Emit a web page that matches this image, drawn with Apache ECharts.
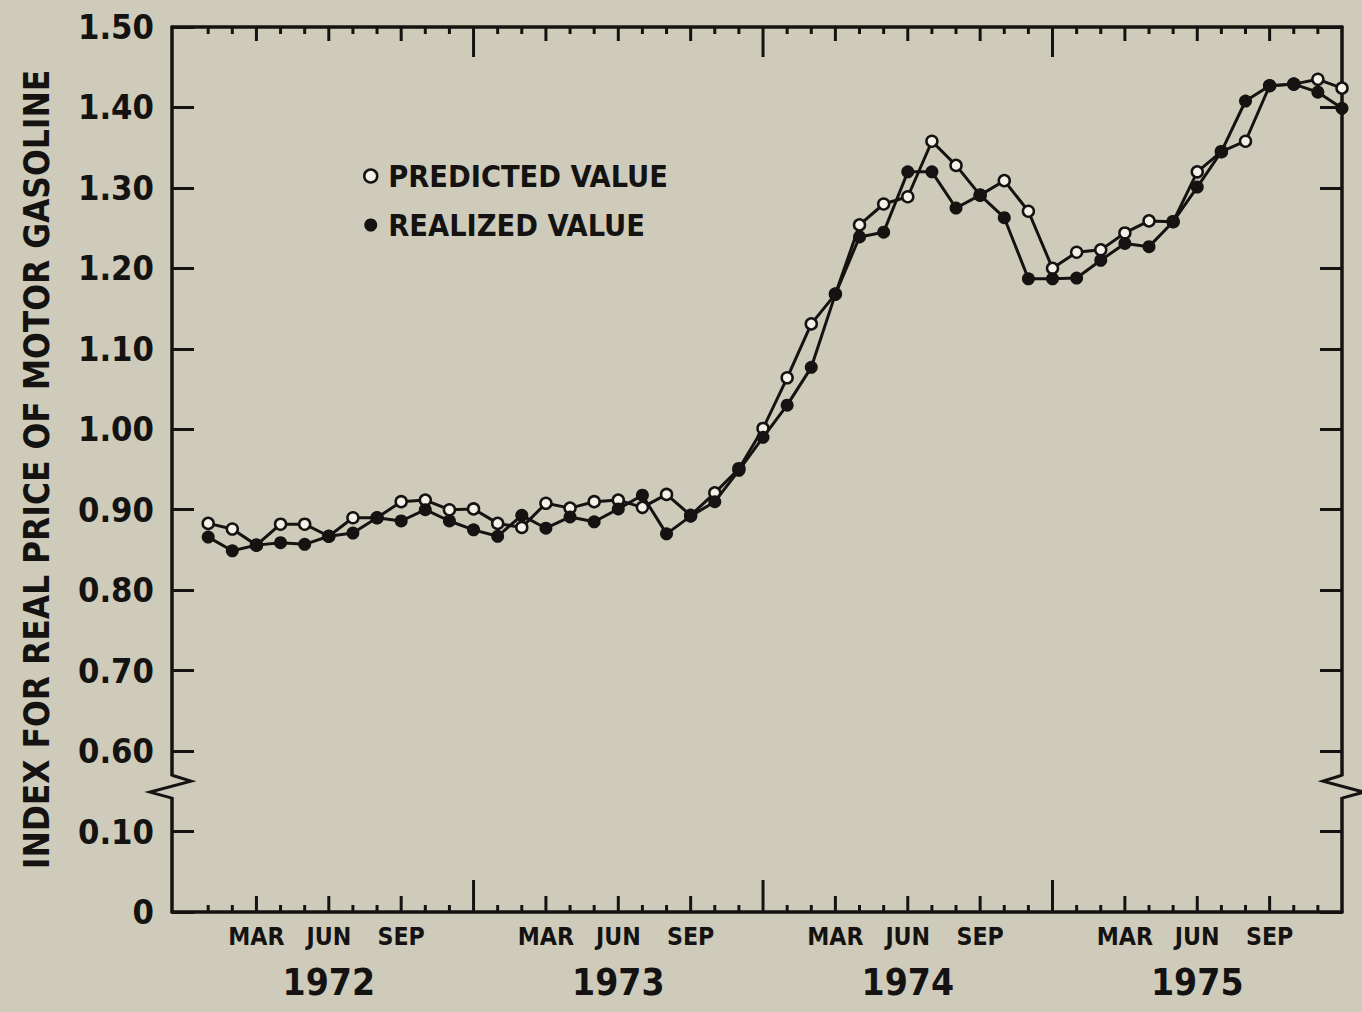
<!DOCTYPE html>
<html><head><meta charset="utf-8">
<script src="https://cdn.jsdelivr.net/npm/echarts@6/dist/echarts.min.js"></script>
<style>html,body{margin:0;padding:0;background:#cfcbbb}#c{width:1362px;height:1012px}</style>
</head><body><div id="c"></div>
<script>
// Monthly observations, Jan 1972 .. Dec 1975 (index 0..47)
const categories = [];
for (const y of [1972, 1973, 1974, 1975]) for (let m = 1; m <= 12; m++) categories.push(y + '-' + (m < 10 ? '0' : '') + m);

const predicted = [
  0.883, 0.876, 0.856, 0.882, 0.882, 0.867, 0.890, 0.890, 0.910, 0.912, 0.900, 0.901,
  0.883, 0.878, 0.908, 0.902, 0.910, 0.912, 0.903, 0.919, 0.893, 0.921, 0.951, 1.001,
  1.064, 1.131, 1.168, 1.254, 1.280, 1.289, 1.358, 1.328, 1.291, 1.309, 1.271, 1.200,
  1.220, 1.223, 1.244, 1.259, 1.258, 1.320, 1.345, 1.358, 1.427, 1.429, 1.435, 1.424
];
const realized = [
  0.866, 0.849, 0.856, 0.859, 0.857, 0.867, 0.871, 0.890, 0.886, 0.900, 0.886, 0.875,
  0.867, 0.893, 0.877, 0.891, 0.885, 0.901, 0.918, 0.870, 0.892, 0.910, 0.949, 0.990,
  1.030, 1.077, 1.168, 1.239, 1.245, 1.320, 1.320, 1.275, 1.291, 1.263, 1.187, 1.187,
  1.188, 1.210, 1.231, 1.227, 1.258, 1.301, 1.345, 1.408, 1.427, 1.429, 1.419, 1.399
];
const quarterLabels = { 2: 'MAR', 5: 'JUN', 8: 'SEP' };
const yearLabels = ['1972', '1973', '1974', '1975'];
// y tick labels: the axis is broken; 0.4 and 0.5 stand for 0 and 0.10
const yTickLabels = { '0.4': '0', '0.5': '0.10' };
const seriesNames = ['PREDICTED VALUE', 'REALIZED VALUE'];
const yTitle = 'INDEX FOR REAL PRICE OF MOTOR GASOLINE';

// ---- font choice: prefer a condensed bold face, size text between reference width and height ----
const ctx = document.createElement('canvas').getContext('2d');
function hasFont(name) {
  const s = 'INDEX FOR REAL 1.50 MAR';
  let r = false;
  for (const fb of ['monospace', 'serif']) {
    ctx.font = 'bold 50px ' + fb; const a = ctx.measureText(s).width;
    ctx.font = "bold 50px '" + name + "', " + fb; const b = ctx.measureText(s).width;
    if (a !== b) r = true;
  }
  return r;
}
const candidates = ['Noto Sans Condensed', 'Liberation Sans Narrow', 'Noto Sans ExtraCondensed', 'DejaVu Sans Condensed'];
const chosen = candidates.find(hasFont) || 'DejaVu Sans Condensed';
const FONT = "'" + chosen + "', 'DejaVu Sans Condensed', sans-serif";
function fit(text, width, capH) {
  ctx.font = 'bold 100px ' + FONT;
  const w = ctx.measureText(text).width;
  const wf = 100 * width / w, hf = capH / 0.72;
  return wf >= hf ? hf : Math.sqrt(wf * hf);
}
const fsY = fit('1.50', 67, 28);
const fsTitle = fit(yTitle, 746, 27);
const fsMonth = fit('MAR', 50, 20);
const fsYear = fit('1972', 77, 32);
const fsLegend = fit(seriesNames[0], 245, 25);

const INK = '#141312';
const BG = '#cfcbbb';
const X_MIN = -1.5, X_MAX = 47, Y_MIN = 0.4, Y_MAX = 1.5;

const tickData = categories.slice(0, 47).map((c, i) => [i, i % 12 === 11 ? 2 : (i % 3 === 2 ? 1 : 0)]);
const breakData = [[X_MIN, -1], [X_MAX, 1]];

const chart = echarts.init(document.getElementById('c'), null, { renderer: 'svg' });
chart.setOption({
  animation: false,
  backgroundColor: BG,
  grid: { left: 172, right: 20, top: 27, bottom: 100, containLabel: false },
  legend: {
    orient: 'vertical', left: 358, top: 156, itemGap: 19, itemWidth: 13, itemHeight: 13,
    textStyle: { fontFamily: FONT, fontWeight: 'bold', fontSize: fsLegend, color: INK, padding: [0, 0, 0, 6] },
    data: [
      { name: seriesNames[0], icon: 'circle', itemStyle: { color: '#f3f1e8', borderColor: INK, borderWidth: 2.5 } },
      { name: seriesNames[1], icon: 'circle', itemStyle: { color: INK, borderWidth: 0 } }
    ]
  },
  xAxis: [
    { type: 'value', min: X_MIN, max: X_MAX, interval: 0.5, position: 'bottom',
      axisLine: { show: true, onZero: false, lineStyle: { color: INK, width: 3.5 } },
      axisTick: { show: false }, splitLine: { show: false },
      axisLabel: { margin: 12, fontFamily: FONT, fontWeight: 'bold', fontSize: fsMonth, color: INK,
        formatter: v => (Number.isInteger(v) && v >= 0 && quarterLabels[v % 12]) ? quarterLabels[v % 12] : '' } },
    { type: 'value', min: X_MIN, max: X_MAX, interval: 0.5, position: 'bottom',
      axisLine: { show: false }, axisTick: { show: false }, splitLine: { show: false },
      axisLabel: { margin: 52, fontFamily: FONT, fontWeight: 'bold', fontSize: fsYear, color: INK,
        formatter: v => (Number.isInteger(v) && v >= 0 && v % 12 === 5) ? yearLabels[Math.floor(v / 12)] : '' } },
    { type: 'value', min: X_MIN, max: X_MAX, position: 'top',
      axisLine: { show: true, onZero: false, lineStyle: { color: INK, width: 3.5 } },
      axisTick: { show: false }, axisLabel: { show: false }, splitLine: { show: false } }
  ],
  yAxis: [
    { type: 'value', min: Y_MIN, max: Y_MAX, interval: 0.1, position: 'left',
      name: yTitle, nameLocation: 'middle', nameGap: 118, nameRotate: 90,
      nameTextStyle: { fontFamily: FONT, fontWeight: 'bold', fontSize: fsTitle, color: INK },
      axisLine: { show: true, onZero: false, lineStyle: { color: INK, width: 3.5 } },
      axisTick: { show: true, inside: true, length: 22, lineStyle: { color: INK, width: 3 } },
      splitLine: { show: false },
      axisLabel: { margin: 18, fontFamily: FONT, fontWeight: 'bold', fontSize: fsY, color: INK,
        formatter: v => { const k = (Math.round(v * 10) / 10).toString(); return yTickLabels[k] !== undefined ? yTickLabels[k] : v.toFixed(2); } } },
    { type: 'value', min: Y_MIN, max: Y_MAX, interval: 0.1, position: 'right',
      axisLine: { show: true, onZero: false, lineStyle: { color: INK, width: 3.5 } },
      axisTick: { show: true, inside: true, length: 22, lineStyle: { color: INK, width: 3 } },
      axisLabel: { show: false }, splitLine: { show: false } }
  ],
  series: [
    { name: seriesNames[0], type: 'line', xAxisIndex: 0, yAxisIndex: 0, z: 3,
      data: predicted.map((v, i) => [i, v]),
      symbol: 'circle', symbolSize: 11, showAllSymbol: true,
      lineStyle: { color: INK, width: 3 },
      itemStyle: { color: '#f3f1e8', borderColor: INK, borderWidth: 2.5 } },
    { name: seriesNames[1], type: 'line', xAxisIndex: 0, yAxisIndex: 0, z: 4,
      data: realized.map((v, i) => [i, v]),
      symbol: 'circle', symbolSize: 13, showAllSymbol: true,
      lineStyle: { color: INK, width: 3 },
      itemStyle: { color: INK, borderWidth: 0 } },
    { type: 'custom', name: 'ticks', xAxisIndex: 0, yAxisIndex: 0, z: 5, silent: true, clip: false,
      data: tickData,
      renderItem: (params, api) => {
        const x = api.value(0), lvl = api.value(1);
        const pb = api.coord([x, Y_MIN]), pt = api.coord([x, Y_MAX]);
        const lb = [7, 16, 32][lvl], lt = [7, 14, 30][lvl];
        const st = { stroke: INK, lineWidth: 3 };
        return { type: 'group', children: [
          { type: 'line', shape: { x1: pb[0], y1: pb[1], x2: pb[0], y2: pb[1] - lb }, style: st },
          { type: 'line', shape: { x1: pt[0], y1: pt[1], x2: pt[0], y2: pt[1] + lt }, style: st }
        ] };
      } },
    { type: 'custom', name: 'break', xAxisIndex: 0, yAxisIndex: 0, z: 6, silent: true, clip: false,
      data: breakData,
      renderItem: (params, api) => {
        const xv = api.value(0), side = api.value(1);
        const a = api.coord([xv, 0.570]), b = api.coord([xv, 0.5627]), c = api.coord([xv, 0.549]), d = api.coord([xv, 0.5416]);
        const dir = side < 0 ? 1 : -1;
        return { type: 'group', children: [
          { type: 'rect', shape: { x: a[0] - 4, y: a[1] + 1, width: 8, height: d[1] - a[1] - 2 }, style: { fill: BG } },
          { type: 'polyline', shape: { points: [[a[0], a[1]], [a[0] + dir * 19, b[1]], [a[0] - dir * 22, c[1]], [a[0], d[1]]] },
            style: { stroke: INK, lineWidth: 3, fill: null } }
        ] };
      } }
  ]
});
</script></body></html>
